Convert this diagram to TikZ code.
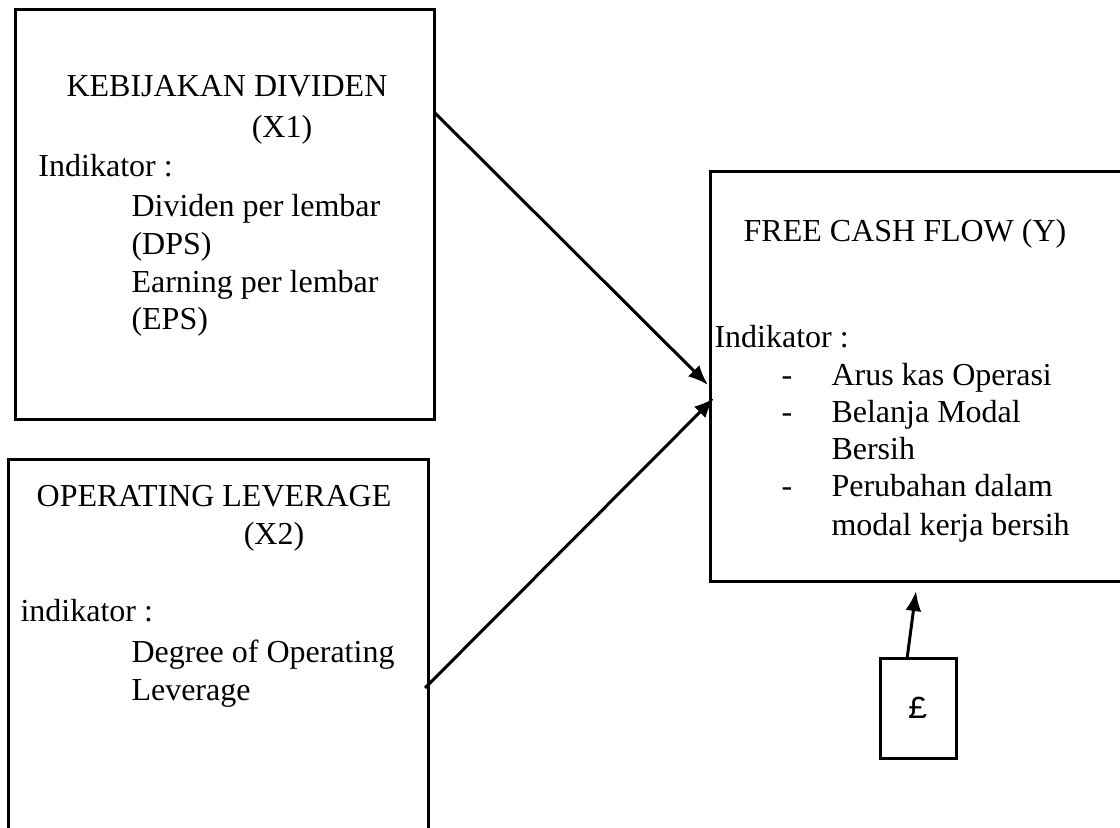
\documentclass[tikz,border=0pt]{standalone}
\usepackage{fontspec}
\setmainfont{Liberation Serif}
\newfontfamily\monofont{Liberation Mono}
\usetikzlibrary{arrows.meta}
\begin{document}
\begin{tikzpicture}[x=0.5pt, y=-0.5pt, line width=1.5pt,
	every node/.style={font=\fontsize{16}{19}\selectfont, inner sep=0pt},
	box/.style={draw, line width=1.5pt, inner sep=0pt},
	txt/.style={anchor=base west},
	ctxt/.style={anchor=base},
	arr/.style={-{Latex[length=10pt, width=8pt]}, line width=1.5pt}]
\useasboundingbox (0,0) rectangle (1120,828);
\clip (0,0) rectangle (1120,828);

% boxes
\node[box, minimum width=209.5pt, minimum height=205pt] (x1) at (224.5, 215) {};
\node[box, minimum width=210pt, minimum height=220pt] (x2) at (218, 680) {};
\node[box, minimum width=235pt, minimum height=205pt] (y) at (945, 377) {};
\node[box, minimum width=38pt, minimum height=49.5pt] (f) at (918, 708.5) {};

% X1
\node[ctxt] (t11) at (227, 97) {KEBIJAKAN DIVIDEN};
\node[ctxt] (t12) at (282, 138) {(X1)};
\node[txt] (t13) at (37, 177) {Indikator :};
\node[txt] (t14) at (130, 217) {Dividen per lembar};
\node[txt] (t15) at (130, 255) {(DPS)};
\node[txt] (t16) at (130, 293) {Earning per lembar};
\node[txt] (t17) at (130, 330) {(EPS)};

% X2
\node[ctxt] (t21) at (214, 507) {OPERATING LEVERAGE};
\node[ctxt] (t22) at (274, 545) {(X2)};
\node[txt] (t23) at (19, 622) {indikator :};
\node[txt] (t24) at (130, 662) {Degree of Operating};
\node[txt] (t25) at (130, 700) {Leverage};

% Y
\node[ctxt] (t31) at (905, 242) {FREE CASH FLOW (Y)};
\node[txt] (t32) at (713, 348) {Indikator :};
\node[txt] (d1) at (780, 386) {-};
\node[txt] (t33) at (830, 386) {Arus kas Operasi};
\node[txt] (d2) at (780, 423) {-};
\node[txt] (t34) at (830, 423) {Belanja Modal};
\node[txt] (t35) at (830, 460) {Bersih};
\node[txt] (d3) at (780, 497) {-};
\node[txt] (t36) at (830, 497) {Perubahan dalam};
\node[txt] (t37) at (830, 536) {modal kerja bersih};

% e
\node (t41) at (918, 708) {\monofont £};

\coordinate (a1) at (434, 112);
\coordinate (e1) at (708, 385);
\coordinate (a2) at (425, 688);
\coordinate (e2) at (714, 398);
\coordinate (a3) at (907, 659);
\coordinate (e3) at (916, 591);

\draw[arr] (a1) -- (e1);
\draw[arr] (a2) -- (e2);
\draw[arr] (a3) -- (e3);
\end{tikzpicture}
\end{document}
